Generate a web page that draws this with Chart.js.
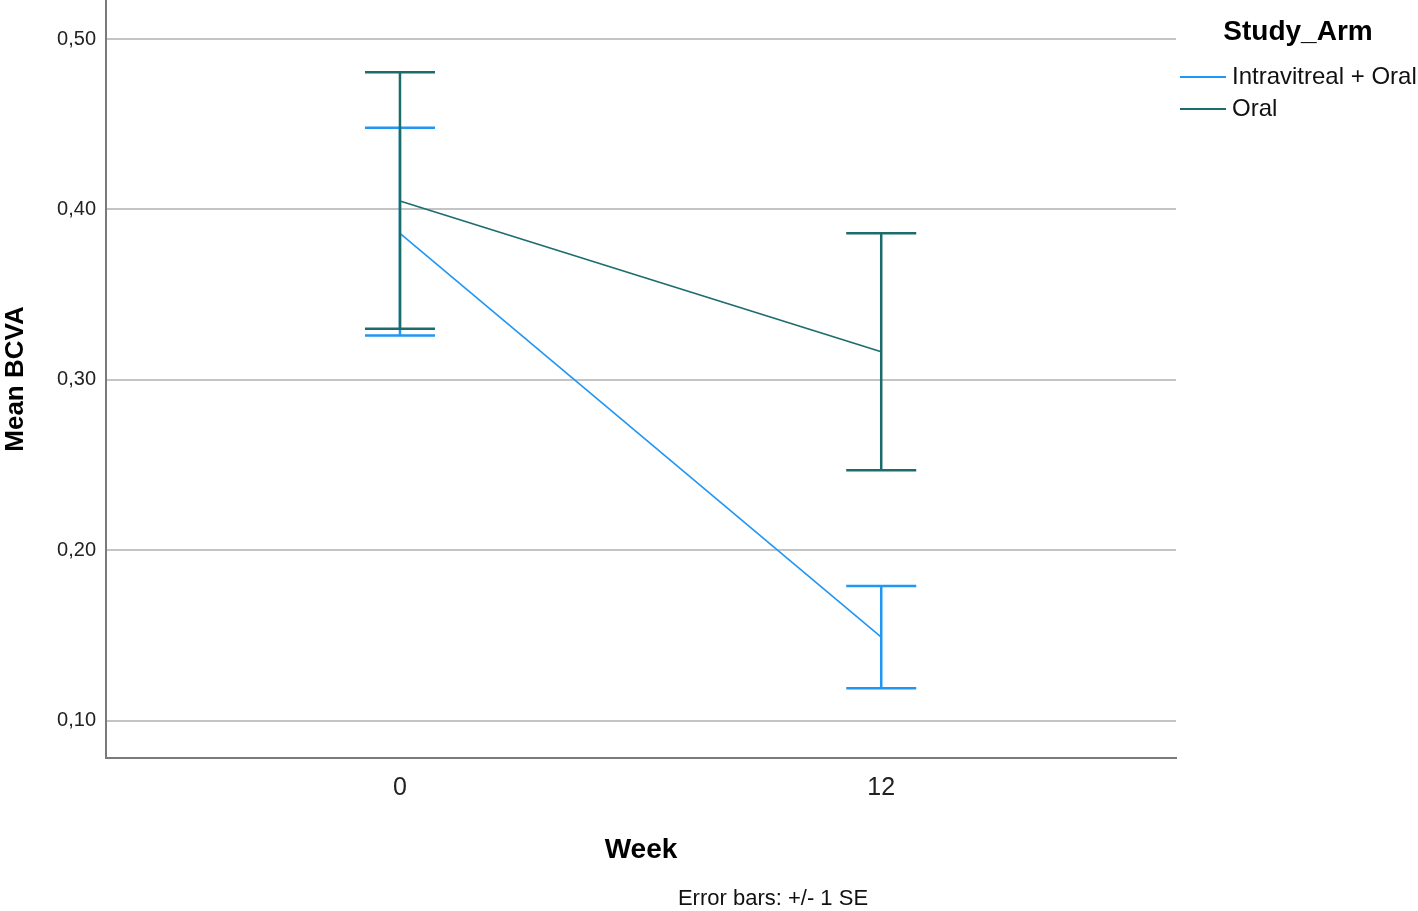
<!DOCTYPE html>
<html>
<head>
<meta charset="utf-8">
<script src="https://cdn.jsdelivr.net/npm/chart.js@4"></script>
<style>
  body { margin: 0; background: #fff; }
  #wrap { width: 1418px; height: 911px; }
</style>
</head>
<body>
<div id="wrap"><canvas id="myChart"></canvas></div>
<script>
// data
const weeks = [0, 12];
const yTicks = [0.1, 0.2, 0.3, 0.4, 0.5];
const ivMean = [0.386, 0.149];
const ivLo = [0.326, 0.119];
const ivHi = [0.448, 0.179];
const oralMean = [0.405, 0.3165];
const oralLo = [0.330, 0.247];
const oralHi = [0.4805, 0.386];

const blue = 'rgb(33, 150, 243)';
const teal = 'rgb(28, 108, 108)';
const FONT = '"Liberation Sans", Arial, sans-serif';

// error bars (+/- 1 SE)
const errorBars = {
  id: 'errorBars',
  afterDatasetsDraw(chart) {
    const ctx = chart.ctx;
    const xs = chart.scales.x, ys = chart.scales.y;
    chart.data.datasets.forEach(function(ds) {
      ctx.save();
      ctx.strokeStyle = ds.borderColor;
      ctx.lineWidth = 2.5;
      ds.data.forEach(function(p, i) {
        const x = xs.getPixelForValue(p.x);
        const y1 = ys.getPixelForValue(ds.errLo[i]);
        const y2 = ys.getPixelForValue(ds.errHi[i]);
        ctx.beginPath();
        ctx.moveTo(x, y1); ctx.lineTo(x, y2);
        ctx.moveTo(x - 35, y1); ctx.lineTo(x + 35, y1);
        ctx.moveTo(x - 35, y2); ctx.lineTo(x + 35, y2);
        ctx.stroke();
      });
      ctx.restore();
    });
  }
};

// legend on the right + footnote
const sideText = {
  id: 'sideText',
  afterDraw(chart) {
    const ctx = chart.ctx;
    ctx.save();
    ctx.fillStyle = '#000';
    ctx.textAlign = 'center';
    ctx.textBaseline = 'middle';
    ctx.font = 'bold 28px ' + FONT;
    ctx.fillText('Study_Arm', 1298, 32);
    ctx.font = '24px ' + FONT;
    ctx.textAlign = 'left';
    chart.data.datasets.forEach(function(ds, i) {
      const y = 77 + i * 32;
      ctx.strokeStyle = ds.borderColor;
      ctx.lineWidth = 2;
      ctx.beginPath();
      ctx.moveTo(1180, y); ctx.lineTo(1226, y);
      ctx.stroke();
      ctx.fillStyle = '#111';
      ctx.fillText(ds.label, 1232, y);
    });
    ctx.font = '22px ' + FONT;
    ctx.textAlign = 'center';
    ctx.fillStyle = '#111';
    ctx.fillText('Error bars: +/- 1 SE', 773, 899);
    ctx.restore();
  }
};

const ctx = document.getElementById('myChart').getContext('2d');
const myChart = new Chart(ctx, {
  type: 'line',
  data: {
    datasets: [
      {
        label: 'Intravitreal + Oral',
        data: weeks.map((w, i) => ({ x: w, y: ivMean[i] })),
        errLo: ivLo,
        errHi: ivHi,
        borderColor: blue,
        borderWidth: 1.6,
        pointRadius: 0,
        fill: false
      },
      {
        label: 'Oral',
        data: weeks.map((w, i) => ({ x: w, y: oralMean[i] })),
        errLo: oralLo,
        errHi: oralHi,
        borderColor: teal,
        borderWidth: 1.6,
        pointRadius: 0,
        fill: false
      }
    ]
  },
  options: {
    responsive: true,
    maintainAspectRatio: false,
    animation: false,
    layout: { padding: { left: 0, right: 242, top: 0, bottom: 0 } },
    plugins: {
      legend: { display: false },
      tooltip: { enabled: false }
    },
    scales: {
      x: {
        type: 'linear',
        min: -7.33,
        max: 19.35,
        afterBuildTicks(scale) { scale.ticks = weeks.map(v => ({ value: v })); },
        afterFit(scale) {
          scale.height = 153;
          scale.paddingLeft = 0;
          scale.paddingRight = 0;
        },
        grid: { display: false, drawTicks: false },
        border: { display: true, color: '#7a7a7a', width: 2 },
        ticks: {
          padding: 15,
          color: '#222',
          font: { family: FONT, size: 25 }
        },
        title: {
          display: true,
          text: 'Week',
          color: '#000',
          font: { family: FONT, size: 28, weight: 'bold' },
          padding: { top: 0, bottom: 44 }
        }
      },
      y: {
        min: 0.0781,
        max: 0.5229,
        afterBuildTicks(scale) { scale.ticks = yTicks.map(v => ({ value: v })); },
        afterFit(scale) {
          scale.width = 106;
          scale.paddingTop = 0;
          scale.paddingBottom = 0;
        },
        grid: { color: '#c4c4c4', lineWidth: 2, drawTicks: false },
        border: { display: true, color: '#7a7a7a', width: 2 },
        ticks: {
          padding: 10,
          color: '#222',
          font: { family: FONT, size: 20 },
          callback: v => v.toFixed(2).replace('.', ',')
        },
        title: {
          display: true,
          text: 'Mean BCVA',
          color: '#000',
          font: { family: FONT, size: 26, weight: 'bold' },
          padding: { top: 0, bottom: 0 }
        }
      }
    }
  },
  plugins: [errorBars, sideText]
});
</script>
</body>
</html>
